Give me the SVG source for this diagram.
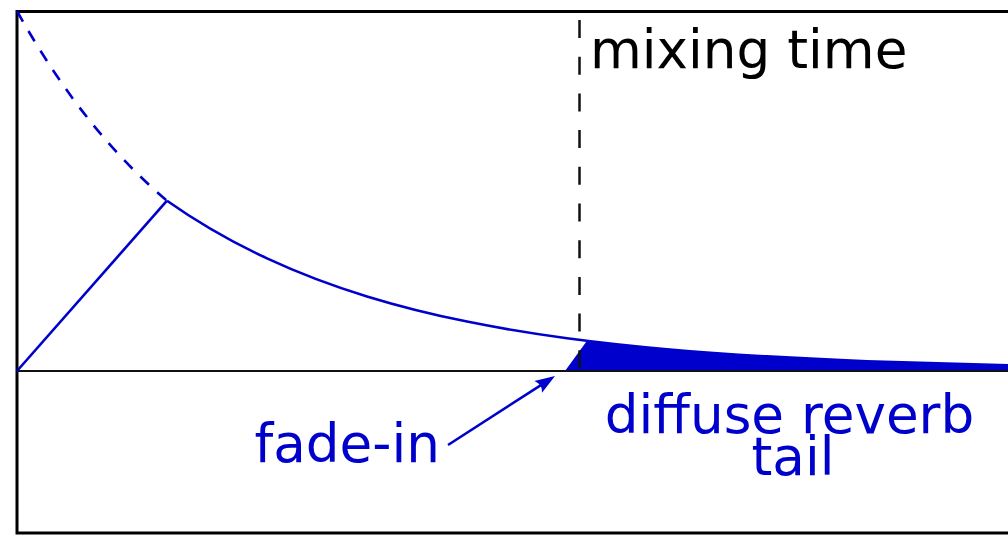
<svg xmlns="http://www.w3.org/2000/svg" width="1008" height="535" viewBox="0 0 1008 535">
  <style>
    .lbl { font-family: "DejaVu Sans", "Liberation Sans", sans-serif; font-size: 53.2px; }
    .blue { fill: #0000cc; }
    .bline { fill: none; stroke: #0000cc; stroke-width: 2.6; }
  </style>
  <defs>
    <marker id="arrow" markerUnits="userSpaceOnUse" markerWidth="30" markerHeight="30" viewBox="-15 -15 30 30" refX="0" refY="0" orient="auto" overflow="visible">
      <path d="M8,0 L-12,-7 Q-7,0 -12,7 Z" fill="#0000cc"/>
    </marker>
  </defs>
  <rect width="1008" height="535" fill="#ffffff"/>
  <g id="frame">
    <rect x="17" y="11.5" width="1000" height="521.5" fill="none" stroke="#000" stroke-width="3"/>
  </g>
  <g id="tail-fill">
    <path class="blue" d="M565,371 L587,340.8 C613.67,344.09 640.33,346.81 667,349.17 C700.33,352.12 733.67,354.46 767,356.41 C800.33,358.36 833.67,359.91 867,361.2 C914,363.01 961,364.31 1008,365.32 L1008,371 Z"/>
  </g>
  <g id="axis">
    <line x1="17" y1="371" x2="1008" y2="371" stroke="#111" stroke-width="2"/>
  </g>
  <g id="curves">
    <path class="bline" stroke-dasharray="12 11" d="M17,11 C42,55.94 67,92.51 92,123.4 C117,154.29 142,179.47 167,200.7"/>
    <path class="bline" stroke-width="2.4" d="M167,200.7 C200.33,224.19 233.67,242.85 267,258.36 C300.33,273.87 333.67,286.21 367,296.45 C400.33,306.69 433.67,314.84 467,321.6 C500.33,328.36 533.67,333.73 567,338.2 C600.33,342.67 633.67,346.22 667,349.17 C700.33,352.12 733.67,354.46 767,356.41 C800.33,358.36 833.67,359.91 867,361.2 C914,363.01 961,364.31 1008,365.32"/>
    <line class="bline" x1="17" y1="371" x2="167" y2="200.7"/>
  </g>
  <g id="mixing-time">
    <line x1="579.5" y1="20" x2="579.5" y2="370" stroke="#111" stroke-width="2.5" stroke-dasharray="18 18.7"/>
    <text class="lbl" x="590" y="68" fill="#000">mixing time</text>
  </g>
  <g id="fade-in">
    <line class="bline" x1="448" y1="445" x2="548.3" y2="380.3" marker-end="url(#arrow)"/>
    <text class="lbl blue" x="254.5" y="462">fade-in</text>
  </g>
  <g id="diffuse-tail">
    <text class="lbl blue" x="789.5" y="432.5" text-anchor="middle">diffuse reverb</text>
    <text class="lbl blue" x="793" y="475" text-anchor="middle">tail</text>
  </g>
</svg>
